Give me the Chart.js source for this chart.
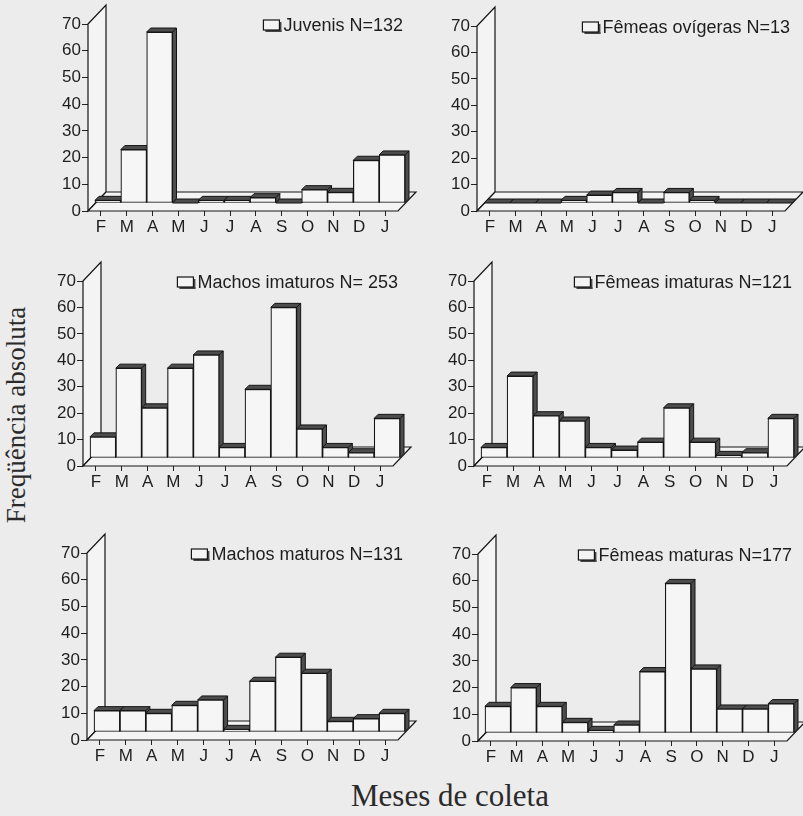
<!DOCTYPE html>
<html><head><meta charset="utf-8">
<script src="https://cdn.jsdelivr.net/npm/chart.js@4/dist/chart.umd.min.js"></script>
<style>
body{margin:0;background:#ececec;width:803px;height:816px;position:relative;overflow:hidden}
canvas{position:absolute}
#ytitle{position:absolute;left:16px;top:415px;transform:translate(-50%,-50%) rotate(-90deg);font:27px "Liberation Serif";white-space:nowrap;color:#2a2a2a}
#xtitle{position:absolute;left:450px;top:796px;transform:translate(-50%,-50%);font:31px "Liberation Serif";color:#2a2a2a;white-space:nowrap}
</style></head><body>
<div id="ytitle">Freqüência absoluta</div>
<div id="xtitle">Meses de coleta</div>
<script>
// ---- data ----
const months = ['F','M','A','M','J','J','A','S','O','N','D','J'];
const juvenis        = [1,20,64,0,1,1,2,0,5,4,16,18];
const femeasOvigeras = [0,0,0,1,3,4,0,4,1,0,0,0];
const machosImaturos = [8,34,19,34,39,4,26,57,11,4,2,15];
const femeasImaturas = [4,31,16,14,4,3,6,19,6,1,2,15];
const machosMaturos  = [8,8,7,10,12,1,19,28,22,4,5,7];
const femeasMaturas  = [10,17,10,4,1,3,23,56,24,9,9,11];
const yTicks = [0,10,20,30,40,50,60,70];

// ---- layout ----
const DX = 18, DY = 19;   // floor / wall depth
const BX = 7, BY = -8;    // bar plane offset
const BD = 4;             // bar depth
const YW = 50, PT = 26, PR = 24, XH = 32;

const panels = [
  {data: juvenis,        label: 'Juvenis N=132',          ax: 88,  y70: 24,  y0: 211, rx: 398},
  {data: femeasOvigeras, label: 'Fêmeas ovígeras N=13',   ax: 477, y70: 26,  y0: 211, rx: 785},
  {data: machosImaturos, label: 'Machos imaturos N= 253', ax: 83,  y70: 281, y0: 466, rx: 393},
  {data: femeasImaturas, label: 'Fêmeas imaturas N=121',  ax: 474, y70: 281, y0: 466, rx: 787},
  {data: machosMaturos,  label: 'Machos maturos N=131',   ax: 87,  y70: 553, y0: 740, rx: 398},
  {data: femeasMaturas,  label: 'Fêmeas maturas N=177',   ax: 478, y70: 554, y0: 741, rx: 787}
];

function poly(ctx, pts){
  ctx.beginPath();
  ctx.moveTo(pts[0][0], pts[0][1]);
  for (let i = 1; i < pts.length; i++) ctx.lineTo(pts[i][0], pts[i][1]);
  ctx.closePath();
  ctx.fill();
  ctx.stroke();
}

function makePlugin(label){
  return {
    id: 'threeD',
    beforeDatasetsDraw(chart){
      const ctx = chart.ctx, a = chart.chartArea;
      ctx.save();
      ctx.fillStyle = '#f4f4f4'; ctx.strokeStyle = '#151515'; ctx.lineWidth = 1.2;
      poly(ctx, [[a.left, a.top], [a.left+DX, a.top-DY], [a.left+DX, a.bottom-DY], [a.left, a.bottom]]);
      poly(ctx, [[a.left, a.bottom], [a.right, a.bottom], [a.right+DX, a.bottom-DY], [a.left+DX, a.bottom-DY]]);
      ctx.restore();
    },
    beforeDatasetDraw(chart, args){
      const ctx = chart.ctx;
      ctx.save();
      ctx.translate(BX, BY);
      ctx.fillStyle = '#4d4d4d'; ctx.strokeStyle = '#151515'; ctx.lineWidth = 1;
      args.meta.data.forEach(bar => {
        const p = bar.getProps(['x','y','base','width'], true);
        const l = p.x - p.width/2, r = p.x + p.width/2;
        const t = Math.min(p.y, p.base), b = Math.max(p.y, p.base);
        poly(ctx, [[r, t], [r+BD, t-BD], [r+BD, b-BD], [r, b]]);
        poly(ctx, [[l, t], [r, t], [r+BD, t-BD], [l+BD, t-BD]]);
      });
    },
    afterDatasetDraw(chart){
      chart.ctx.restore();
    },
    afterDraw(chart){
      const ctx = chart.ctx, a = chart.chartArea;
      ctx.save();
      ctx.font = '18px "Liberation Sans", Arial, sans-serif';
      ctx.fillStyle = '#1e1e1e';
      ctx.textAlign = 'right';
      ctx.textBaseline = 'middle';
      const tx = a.right + 5, ty = a.top + 2;
      ctx.fillText(label, tx, ty);
      const w = ctx.measureText(label).width;
      const bx = tx - w - 20, by = ty - 6;
      ctx.fillStyle = '#444';
      ctx.fillRect(bx + 2, by + 10, 16, 2);
      ctx.fillRect(bx + 16, by + 2, 2, 10);
      ctx.fillStyle = '#f4f4f4';
      ctx.fillRect(bx, by, 16, 10);
      ctx.strokeStyle = '#151515'; ctx.lineWidth = 1.2;
      ctx.strokeRect(bx, by, 16, 10);
      ctx.restore();
    }
  };
}

const tickFont = {family: '"Liberation Sans", Arial, sans-serif', size: 17};

panels.forEach(p => {
  const c = document.createElement('canvas');
  const w = (p.rx - p.ax) + YW + PR;
  const h = (p.y0 - p.y70) + PT + XH;
  c.width = w; c.height = h;
  c.style.left = (p.ax - YW) + 'px';
  c.style.top = (p.y70 - PT) + 'px';
  c.style.width = w + 'px'; c.style.height = h + 'px';
  document.body.appendChild(c);
  new Chart(c, {
    type: 'bar',
    data: {
      labels: months,
      datasets: [{
        data: p.data,
        backgroundColor: '#f6f6f6',
        borderColor: '#151515',
        borderWidth: 1.2,
        borderSkipped: false,
        barPercentage: 1,
        categoryPercentage: 1,
        clip: false
      }]
    },
    options: {
      responsive: false,
      animation: false,
      devicePixelRatio: 1,
      layout: {padding: {left: 0, top: PT, right: PR, bottom: 0}},
      plugins: {legend: {display: false}, tooltip: {enabled: false}},
      scales: {
        x: {
          offset: true,
          grid: {display: true, drawOnChartArea: false, offset: false, tickLength: 5, color: '#222'},
          border: {display: false},
          ticks: {font: tickFont, color: '#1e1e1e', padding: 1, maxRotation: 0, autoSkip: false},
          afterFit(s){ s.height = XH; }
        },
        y: {
          min: yTicks[0], max: yTicks[yTicks.length-1],
          afterBuildTicks(s){ s.ticks = yTicks.map(v => ({value: v})); },
          grid: {display: true, drawOnChartArea: false, tickLength: 6, color: '#222'},
          border: {display: false},
          ticks: {font: tickFont, color: '#1e1e1e', padding: 1},
          afterFit(s){ s.width = YW; }
        }
      }
    },
    plugins: [makePlugin(p.label)]
  });
});
</script>
</body></html>
